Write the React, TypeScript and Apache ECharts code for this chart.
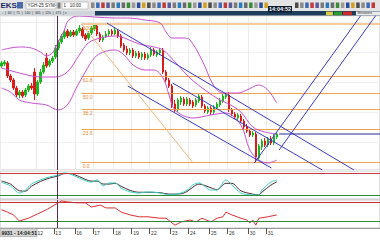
import React, { useEffect, useRef } from 'react';
import * as echarts from 'echarts';

// ---- categories (trading days and bars per day) ----
const days = ['11', '12', '13', '16', '17', '18', '19', '22', '23', '24', '25', '26', '30', '31'];
const barsPerDay = [12, 6, 7, 6, 7, 6, 6, 7, 6, 7, 6, 7, 6, 4];
const totalSlots = 127;

// ---- candle values ----
const opens = [1396,1398,1399,1386,1382,1374,1367,1370,1367,1372,1376,1390,1368,1380,1390,1404,1397,1401,1405,1414,1420,1425,1431,1426,1430,1427,1431,1433,1427,1424,1429,1433,1436,1428,1422,1425,1428,1431,1428,1431,1426,1417,1413,1409,1412,1406,1409,1405,1408,1404,1407,1412,1407,1409,1412,1390,1382,1376,1358,1352,1360,1363,1358,1362,1360,1357,1361,1365,1356,1350,1354,1350,1354,1357,1361,1365,1367,1352,1348,1344,1346,1341,1335,1331,1327,1328,1304,1315,1321,1317,1323,1319,1325];
const closes = [1399,1400,1386,1382,1374,1367,1370,1366,1372,1376,1374,1368,1380,1390,1397,1396,1401,1404,1414,1420,1426,1430,1426,1430,1427,1431,1434,1426,1423,1429,1434,1437,1428,1422,1425,1428,1431,1428,1432,1426,1416,1412,1409,1412,1406,1409,1405,1408,1404,1407,1412,1408,1410,1412,1390,1382,1376,1357,1352,1362,1364,1358,1363,1358,1356,1362,1366,1356,1351,1354,1350,1355,1358,1362,1366,1367,1352,1348,1345,1347,1341,1335,1331,1327,1329,1305,1316,1321,1317,1323,1319,1326,1328];
const lows = [1394,1396,1384,1380,1372,1365,1364,1364,1365,1370,1372,1362,1366,1378,1388,1394,1395,1399,1403,1412,1418,1423,1424,1425,1425,1426,1429,1424,1421,1422,1427,1431,1426,1420,1420,1424,1426,1426,1427,1424,1414,1410,1407,1407,1404,1404,1403,1402,1402,1402,1405,1406,1405,1407,1388,1380,1374,1354,1350,1350,1357,1356,1356,1356,1354,1355,1359,1354,1349,1348,1347,1348,1352,1355,1359,1363,1350,1346,1343,1342,1339,1333,1329,1325,1325,1300,1302,1312,1315,1315,1317,1317,1323];
const highs = [1401,1402,1401,1388,1384,1376,1372,1372,1374,1378,1379,1394,1382,1393,1400,1409,1403,1406,1417,1422,1428,1432,1433,1432,1432,1433,1437,1435,1429,1431,1436,1438,1437,1430,1427,1431,1433,1433,1434,1433,1428,1419,1416,1414,1414,1411,1411,1410,1410,1409,1415,1414,1412,1414,1414,1392,1384,1378,1362,1364,1366,1365,1365,1364,1362,1364,1368,1367,1358,1356,1356,1357,1360,1364,1368,1369,1370,1354,1350,1349,1348,1343,1338,1333,1331,1330,1318,1323,1324,1325,1326,1328,1330];

// ---- Bollinger bands: [bar, price] ----
const bbUpper = [[0,1412],[3,1414],[6,1415],[10,1414],[13,1410],[15,1406],[17,1409],[18,1414],[19,1420],[21,1432],[22,1440],[24,1445],[26,1446],[31,1445],[38,1444],[42,1444],[48,1442],[53,1439],[55,1430],[57,1424],[61,1424],[63,1422],[67,1402],[71,1376],[74,1369],[79,1369],[82,1372],[86,1377],[89,1372],[92,1359]];
const bbMiddle = [[0,1394],[6,1389],[13,1385],[18,1385],[22,1390],[26,1407],[29,1419],[33,1424],[38,1426],[41,1424],[46,1418],[51,1415],[54,1412],[58,1400],[63,1384],[68,1372],[73,1362],[76,1358],[80,1350],[84,1335],[88,1330],[92,1328]];
const bbLower = [[0,1374],[3,1370],[6,1362],[10,1359],[15,1357],[19,1352],[22,1357],[25,1374],[28,1390],[31,1404],[34,1410],[38,1412],[41,1407],[44,1397],[48,1392],[51,1392],[54,1384],[56,1367],[58,1352],[64,1344],[70,1347],[75,1349],[80,1337],[83,1312],[86,1302],[89,1299],[92,1302]];

// ---- Fibonacci retracement ----
const fibHigh = 1438;
const fibLow = 1300;
const fibStartBar = 26.8;
const fibRatios = [1, 0.618, 0.5, 0.382, 0.236, 0];
const fibLabels = ['100.0', '61.8', '50.0', '38.2', '23.6', '0.0'];
const fibDiagonal = [[26.8, 1438], [63.8, 1300]];

// ---- drawn trend lines: [bar, price] ----
const channelUpper = [[35.2, 1439], [117.8, 1292]];
const channelMid = [[57.2, 1379], [107.2, 1292]];
const channelLower = [[42.2, 1376], [90.2, 1294]];
const riseA = [[84.5, 1299], [120.2, 1447]];
const riseB = [[92.8, 1312], [125.2, 1447]];
const flatLevel = [[92.8, 1328], [126.5, 1328]];
const cursorBar = 18.6;

// ---- oscillators ----
const stochK = [[0,55],[3,45],[6,26],[8,34],[10,50],[13,61],[16,69],[19,74],[21,80],[23,77],[26,66],[30,55],[32,61],[34,45],[36,53],[38,53],[40,39],[43,29],[46,26],[49,29],[53,26],[56,21],[60,26],[62,34],[64,48],[66,53],[70,34],[72,34],[75,61],[77,48],[80,26],[84,21],[86,21],[87,34],[90,55],[92,61]];
const stochD = [[0,58],[3,50],[6,32],[8,31],[10,44],[13,57],[16,66],[19,72],[21,78],[23,78],[26,70],[30,58],[32,58],[34,50],[36,50],[38,52],[40,44],[43,33],[46,28],[49,28],[53,27],[56,23],[60,24],[62,30],[64,42],[66,50],[70,40],[72,35],[75,52],[77,52],[80,32],[84,23],[86,21],[87,28],[90,47],[92,56]];
const stochLevels = [80, 20];
const rsi = [[0,54],[2,49],[4,43],[6,30],[9,36],[12,45],[15,54],[19,69],[20,73],[22,71],[25,69],[28,69],[30,60],[33,64],[35,58],[38,58],[40,49],[43,43],[46,39],[49,39],[53,36],[55,36],[58,21],[60,28],[63,32],[65,28],[67,36],[70,28],[72,36],[74,39],[75,49],[77,43],[80,36],[82,32],[83,26],[84,32],[85,21],[86,36],[89,39],[92,43]];
const rsiLevels = [70, 30];

const FONT = 'Liberation Sans';

function buildOption() {
  const cats: string[] = [];
  const dayStart: number[] = [];
  days.forEach((d, k) => {
    dayStart.push(cats.length);
    for (let j = 0; j < barsPerDay[k]; j++) cats.push(d + '#' + j);
  });
  for (let j = cats.length; j < totalSlots; j++) cats.push('#' + j);
  const isDayStart = (idx: number) => dayStart.indexOf(idx) >= 0;
  // the first day's label sits under the status box, so it is not printed
  const isLabelled = (idx: number) => idx > 0 && isDayStart(idx);

  const candleData = opens.map((o, i) => [o, closes[i], lows[i], highs[i]]);

  const seg = (data: number[][], color: string, width = 1) => ({
    type: 'line', xAxisIndex: 1, yAxisIndex: 0, data, symbol: 'none', showSymbol: false,
    lineStyle: { color, width }, silent: true, z: 4,
  });
  const band = (data: number[][]) => ({
    type: 'line', xAxisIndex: 1, yAxisIndex: 0, data, symbol: 'none', showSymbol: false,
    smooth: 0.35, lineStyle: { color: '#c84fd0', width: 1 }, silent: true, z: 3,
  });
  const cursorLine = { xAxis: cursorBar, lineStyle: { color: '#5b2a5b', width: 1, type: 'solid' } };

  const fibMark = fibRatios.map((r, k) => {
    const p = fibLow + r * (fibHigh - fibLow);
    const ls = { color: k === 0 ? '#f7cc9c' : '#f2a24a', width: k === 0 ? 2 : 1, type: 'solid' };
    return [
      {
        coord: [fibStartBar, p], lineStyle: ls,
        label: { show: true, formatter: fibLabels[k], position: 'insideStartBottom', distance: 1, fontSize: 5, color: '#e08a30', fontFamily: FONT },
      },
      { coord: [totalSlots - 0.5, p], lineStyle: ls },
    ];
  });

  const blue = '#3a3ac4';

  // toolbar icons (decoration)
  const iconColors = ['#8a8a8a', '#3a6ab8', '#c03a3a', '#5a5a9a', '#7a7a7a', '#2a7ac0', '#6a6a6a', '#3a8a3a', '#9a9a9a', '#2a4a9a', '#d0a020', '#4a4a4a'];
  const icons: any[] = [];
  let ix = 91;
  let c = 0;
  while (ix < 372) {
    if (ix < 266 || ix > 293) {
      icons.push({ type: 'rect', shape: { x: ix, y: 2.5, width: 3.5, height: 5.5 }, style: { fill: iconColors[c % iconColors.length] }, z: 50 });
      c++;
    }
    ix += 5.1;
  }

  const graphic: any[] = [
    { type: 'rect', shape: { x: 0, y: 0, width: 380, height: 11 }, style: { fill: '#e4e4e4' }, z: 40 },
    { type: 'text', x: 0.5, y: 1.5, style: { text: 'EKS', font: 'bold 8px ' + FONT, fill: '#1b2a66' }, z: 50 },
    { type: 'rect', shape: { x: 17, y: 2, width: 6, height: 6.5 }, style: { fill: '#4a6aa8' }, z: 50 },
    { type: 'rect', shape: { x: 26, y: 2, width: 30, height: 7 }, style: { fill: '#ffffff', stroke: '#9a9a9a', lineWidth: 0.5 }, z: 50 },
    { type: 'text', x: 27.5, y: 3.2, style: { text: 'YGH-25 SYM-', font: '4.5px ' + FONT, fill: '#222' }, z: 51 },
    { type: 'rect', shape: { x: 57.5, y: 2.5, width: 3, height: 6 }, style: { fill: '#7a7a7a' }, z: 50 },
    { type: 'rect', shape: { x: 62, y: 2, width: 26, height: 7 }, style: { fill: '#ffffff', stroke: '#9a9a9a', lineWidth: 0.5 }, z: 50 },
    { type: 'text', x: 63.5, y: 3.2, style: { text: '1   10:00', font: '4.5px ' + FONT, fill: '#222' }, z: 51 },
    ...icons,
    { type: 'rect', shape: { x: 0, y: 11, width: 95, height: 4.6 }, style: { fill: '#cfd5da' }, z: 40 },
    { type: 'text', x: 2, y: 11.6, style: { text: '-  |  60  |  71  |  140  |  345  |  220  |  471  | \u25BE', font: '3.4px ' + FONT, fill: '#333' }, z: 41 },
    { type: 'rect', shape: { x: 95, y: 11, width: 285, height: 4.6 }, style: { fill: '#1c3d5c' }, z: 40 },
    { type: 'rect', shape: { x: 268, y: 6, width: 24, height: 6.5 }, style: { fill: '#0d1c30' }, z: 55 },
    { type: 'text', x: 280, y: 9.3, style: { text: '14:04:52', font: 'bold 5.5px ' + FONT, fill: '#ffffff', align: 'center', verticalAlign: 'middle' }, z: 56 },
    { type: 'rect', shape: { x: 326, y: 11.6, width: 7, height: 3.6 }, style: { fill: '#d8cf44' }, z: 45 },
    { type: 'rect', shape: { x: 334, y: 11.6, width: 8, height: 3.6 }, style: { fill: '#2f9a2f' }, z: 45 },
    { type: 'rect', shape: { x: 343, y: 11.6, width: 9, height: 3.6 }, style: { fill: '#cc2a2a' }, z: 45 },
    { type: 'rect', shape: { x: 356, y: 11.4, width: 24, height: 4 }, style: { fill: '#ebebeb' }, z: 45 },
    { type: 'text', x: 357.5, y: 11.8, style: { text: 'Mutations', font: '3.4px ' + FONT, fill: '#333' }, z: 46 },
    { type: 'rect', shape: { x: 0, y: 228.5, width: 37, height: 8 }, style: { fill: '#d6d6d6', stroke: '#8a8a8a', lineWidth: 0.5 }, z: 60 },
    { type: 'text', x: 1.5, y: 230.2, style: { text: '9931 - 14:04:51', font: 'bold 5px ' + FONT, fill: '#1a1a1a' }, z: 61 },
  ];

  return {
    animation: false,
    backgroundColor: '#ffffff',
    graphic,
    grid: [
      { left: 0, top: 16, width: 381, height: 154, show: true, borderColor: '#c4c4c4', borderWidth: 1, backgroundColor: '#ffffff' },
      { left: 0, top: 171, width: 381, height: 28, show: true, borderColor: '#c4c4c4', borderWidth: 1, backgroundColor: '#ffffff' },
      { left: 0, top: 200, width: 381, height: 28, show: true, borderColor: '#c4c4c4', borderWidth: 1, backgroundColor: '#ffffff' },
    ],
    xAxis: [
      {
        type: 'category', gridIndex: 0, data: cats, boundaryGap: true,
        axisLine: { show: false }, axisTick: { show: false }, axisLabel: { show: false },
        splitLine: { show: true, interval: isDayStart, lineStyle: { color: '#ebebeb', width: 1 } },
      },
      { type: 'value', gridIndex: 0, min: -0.5, max: totalSlots - 0.5, show: false },
      { type: 'value', gridIndex: 1, min: -0.5, max: totalSlots - 0.5, show: false },
      {
        type: 'category', gridIndex: 2, data: cats, boundaryGap: true,
        axisLine: { show: true, lineStyle: { color: '#9a9a9a' } },
        axisTick: { show: true, interval: isLabelled, length: 6, lineStyle: { color: '#555555' } },
        axisLabel: {
          show: true, interval: isLabelled, formatter: (v: string) => v.split('#')[0],
          fontSize: 5, color: '#333333', align: 'left', margin: 2, fontFamily: FONT,
        },
        splitLine: { show: false },
      },
      { type: 'value', gridIndex: 2, min: -0.5, max: totalSlots - 0.5, show: false },
    ],
    yAxis: [
      {
        type: 'value', gridIndex: 0, min: 1292, max: 1446, scale: true,
        axisLine: { show: false }, axisTick: { show: false }, axisLabel: { show: false },
        splitLine: { show: true, lineStyle: { color: '#f0f0f0' } },
      },
      { type: 'value', gridIndex: 1, min: 10, max: 85, show: false },
      { type: 'value', gridIndex: 2, min: 15, max: 75, show: false },
    ],
    series: [
      {
        type: 'candlestick', xAxisIndex: 0, yAxisIndex: 0, data: candleData, barWidth: 2,
        itemStyle: { color: '#1fb41f', color0: '#d81b1b', borderColor: '#1fb41f', borderColor0: '#d81b1b', borderWidth: 1 },
        z: 2, silent: true,
      },
      band(bbUpper),
      band(bbMiddle),
      band(bbLower),
      {
        type: 'line', xAxisIndex: 1, yAxisIndex: 0, data: fibDiagonal, symbol: 'none', showSymbol: false,
        lineStyle: { color: '#f3b477', width: 1 }, silent: true, z: 3,
        markLine: { symbol: ['none', 'none'], silent: true, data: fibMark, z: 3 },
      },
      seg(channelUpper, blue),
      seg(channelMid, blue),
      seg(channelLower, blue),
      seg(riseA, blue),
      seg(riseB, blue),
      {
        ...seg(flatLevel, '#2a2a9a'),
        markLine: { symbol: ['none', 'none'], silent: true, label: { show: false }, data: [cursorLine] },
      },
      {
        type: 'line', xAxisIndex: 2, yAxisIndex: 1, data: stochD, symbol: 'none', showSymbol: false, smooth: 0.3,
        lineStyle: { color: '#4a2424', width: 1 }, silent: true,
        markLine: {
          symbol: ['none', 'none'], silent: true, label: { show: false },
          data: [
            { yAxis: stochLevels[0], lineStyle: { color: '#d0344a', width: 1, type: 'solid' } },
            { yAxis: stochLevels[1], lineStyle: { color: '#2e8b3e', width: 1, type: 'solid' } },
            cursorLine,
          ],
        },
      },
      {
        type: 'line', xAxisIndex: 2, yAxisIndex: 1, data: stochK, symbol: 'none', showSymbol: false, smooth: 0.3,
        lineStyle: { color: '#36d3c6', width: 1 }, silent: true,
      },
      {
        type: 'line', xAxisIndex: 4, yAxisIndex: 2, data: rsi, symbol: 'none', showSymbol: false,
        lineStyle: { color: '#dd3030', width: 1 }, silent: true,
        markLine: {
          symbol: ['none', 'none'], silent: true, label: { show: false },
          data: [
            { yAxis: rsiLevels[0], lineStyle: { color: '#c8303c', width: 1, type: 'solid' } },
            { yAxis: rsiLevels[1], lineStyle: { color: '#2e8b3e', width: 1, type: 'solid' } },
            cursorLine,
          ],
        },
      },
    ],
  };
}

export default function App() {
  const ref = useRef<HTMLDivElement>(null);
  useEffect(() => {
    document.body.style.margin = '0';
    const chart = echarts.init(ref.current as HTMLDivElement, null, { renderer: 'svg' });
    chart.setOption(buildOption() as any);
    return () => chart.dispose();
  }, []);
  return <div ref={ref} style={{ width: 380, height: 240, overflow: 'hidden' }} />;
}
